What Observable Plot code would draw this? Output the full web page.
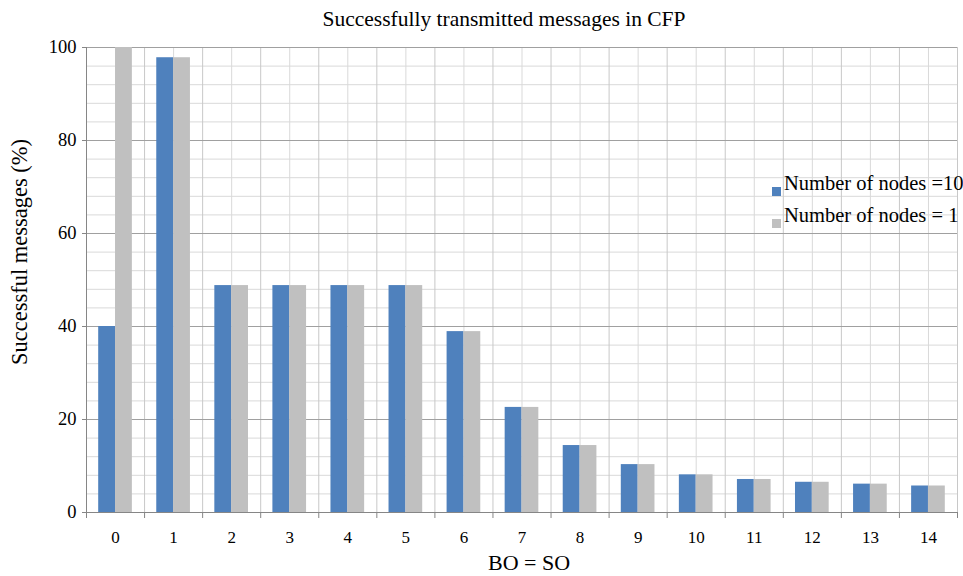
<!DOCTYPE html>
<html>
<head>
<meta charset="utf-8">
<script src="https://cdn.jsdelivr.net/npm/d3@7"></script>
<script src="https://cdn.jsdelivr.net/npm/@observablehq/plot@0.6"></script>
<style>
  html, body { margin: 0; padding: 0; background: #fff; }
  #wrap { position: relative; width: 963px; height: 576px; overflow: hidden; font-family: "Liberation Serif", "Times New Roman", serif; color: #000; }
  #wrap .abs { position: absolute; white-space: nowrap; line-height: 1; font-family: "Liberation Serif", serif; }
  #chart { position: absolute; left: 0; top: 36px; }
  #chart svg, #chart svg text { font-family: "Liberation Serif", serif !important; }
  .sw { position: absolute; width: 9px; height: 9px; }
</style>
</head>
<body>
<div id="wrap">
  <div class="abs" id="title" style="left:504px; top:9px; font-size:21.5px; transform:translateX(-50%);">Successfully transmitted messages in CFP</div>
  <div id="chart"></div>
  <div class="abs" id="ylab" style="left:20px; top:252px; font-size:22.5px; transform:translate(-50%,-50%) rotate(-90deg);">Successful messages (%)</div>
  <div class="abs" id="xlab" style="left:529px; top:552px; font-size:22px; transform:translateX(-50%);">BO = SO</div>
  <div id="legend"></div>
</div>
<script>
// ---- data ----
const categories = [0, 1, 2, 3, 4, 5, 6, 7, 8, 9, 10, 11, 12, 13, 14];
const nodes10 = [40, 97.8, 48.8, 48.8, 48.8, 48.8, 38.9, 22.6, 14.4, 10.3, 8.1, 7.1, 6.5, 6.1, 5.7];
const nodes1  = [100, 97.8, 48.8, 48.8, 48.8, 48.8, 38.9, 22.6, 14.4, 10.3, 8.1, 7.1, 6.5, 6.1, 5.7];
const seriesNames = ["Number of nodes =10", "Number of nodes = 1"];
const seriesColors = ["#4f81bd", "#c0c0c0"];
const yTicks = [0, 20, 40, 60, 80, 100];
const yMinorStep = 4;

// ---- table ----
const rows = [];
categories.forEach((c, i) => {
  rows.push({bo: c, series: seriesNames[0], value: nodes10[i], side: -1});
  rows.push({bo: c, series: seriesNames[1], value: nodes1[i], side: 1});
});
const half = 0.29; // bar width in category units
const yMinor = d3.range(0, 100 + 1e-9, yMinorStep);
const lo = categories[0] - 0.5, hi = categories[categories.length - 1] + 0.5;
const bounds = d3.range(lo, hi + 1e-9, 1);
const centers = categories;
const serif = "Liberation Serif";

const chart = Plot.plot({
  width: 963,
  height: 540,
  marginTop: 11,
  marginBottom: 64,
  marginLeft: 86,
  marginRight: 6,
  style: "font-family: 'Liberation Serif', serif; font-size: 17px; color: #000; background: transparent;",
  x: {type: "linear", domain: [lo, hi], axis: null},
  y: {domain: [0, 100], axis: null},
  color: {domain: seriesNames, range: seriesColors},
  marks: [
    Plot.ruleY(yMinor, {stroke: "#d9d9d9", strokeWidth: 1}),
    Plot.ruleX(centers, {stroke: "#d9d9d9", strokeWidth: 1}),
    Plot.ruleX(bounds, {stroke: "#c8c8c8", strokeWidth: 1}),
    Plot.ruleY(yTicks, {stroke: "#a0a0a0", strokeWidth: 1}),
    Plot.rectY(rows, {
      x1: d => d.side < 0 ? d.bo - half : d.bo,
      x2: d => d.side < 0 ? d.bo : d.bo + half,
      y: "value",
      fill: "series"
    }),
    Plot.ruleX([lo], {stroke: "#868686"}),
    Plot.ruleY([0], {stroke: "#868686"}),
    Plot.axisY({ticks: yTicks, tickSize: 4, tickPadding: 6, fontSize: 18.5, fontFamily: serif, stroke: "#868686", label: null}),
    Plot.axisX({ticks: bounds, tickSize: 6, tickFormat: () => "", stroke: "#868686", label: null}),
    Plot.axisX({ticks: categories, tickSize: 0, tickPadding: 18, fontSize: 17, fontFamily: serif, label: null})
  ]
});
document.getElementById("chart").appendChild(chart);

// ---- legend ----
const legend = document.getElementById("legend");
const legendTops = [173, 205];
seriesNames.forEach((name, i) => {
  const sw = document.createElement("div");
  sw.className = "sw";
  sw.style.left = "772px";
  sw.style.top = (legendTops[i] + 14) + "px";
  sw.style.background = seriesColors[i];
  legend.appendChild(sw);
  const t = document.createElement("div");
  t.className = "abs";
  t.style.left = "784px";
  t.style.top = legendTops[i] + "px";
  t.style.fontSize = "20.5px";
  t.textContent = name;
  legend.appendChild(t);
});
</script>
</body>
</html>
